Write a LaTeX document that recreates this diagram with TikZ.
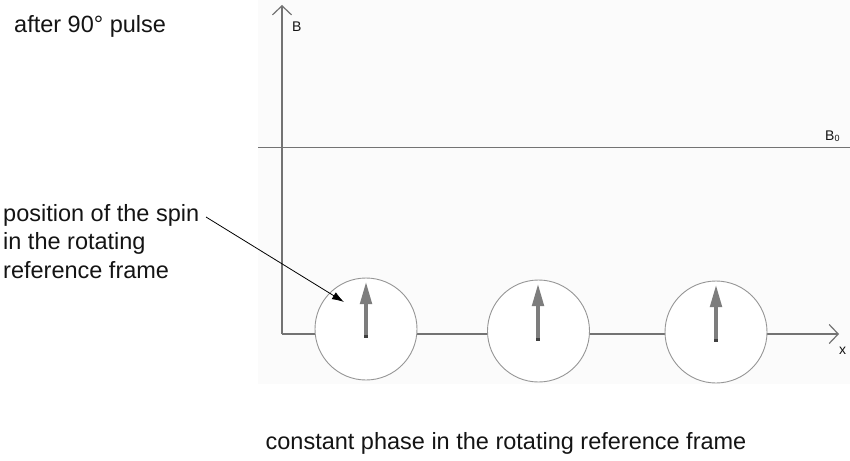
\documentclass[tikz,border=0pt]{standalone}
\usepackage{fontspec}
\setmainfont{Liberation Sans}
\usetikzlibrary{arrows.meta}
\definecolor{axisgray}{RGB}{115,115,115}
\definecolor{circgray}{RGB}{150,150,150}
\definecolor{spingray}{RGB}{125,125,125}
\definecolor{panelbg}{RGB}{251,251,251}
\definecolor{txt}{RGB}{20,20,20}
\tikzset{
  axisline/.style={draw=axisgray, line width=1.2pt},
  axistip/.style={-{Straight Barb[length=9pt,width=19pt,line width=1.2pt]}},
  spincirc/.style={circle, draw=circgray, line width=0.9pt, fill=white, minimum size=102pt, inner sep=0pt},
  spinarrow/.style={draw=spingray, line width=4.5pt, -{Triangle[length=23pt,width=11pt]}, shorten >=0pt},
  bigtext/.style={inner sep=0pt, text=txt, font=\fontsize{23.5}{28.5}\selectfont},
  smalltext/.style={inner sep=0pt, text=txt, font=\fontsize{14}{16}\selectfont},
  leader/.style={draw=black, line width=0.8pt, -{Latex[length=12pt,width=8pt]}}
}
\begin{document}
\begin{tikzpicture}[x=1pt,y=-1pt]
\useasboundingbox (0,0) rectangle (850,460);
\fill[panelbg] (258,0) rectangle (850,384);
% axes
\coordinate (O) at (282,334);
\coordinate (Btop) at (282,5);
\coordinate (Xend) at (839,334);
\draw[axisline, axistip] (O) -- (Btop);
\draw[axisline, axistip] (O) -- (Xend);
% B0 line
\coordinate (b0l) at (258,147);
\coordinate (b0r) at (850,147);
\draw[axisline, line width=1pt] (b0l) -- (b0r);
% circles
\node[spincirc] (c1) at (366,329) {};
\node[spincirc] (c2) at (538.5,331) {};
\node[spincirc] (c3) at (716,332) {};
% spins
\foreach \n/\x/\yb/\yt in {1/366/337/281, 2/538/340/283, 3/716/341/284}{
  \coordinate (s\n b) at (\x,\yb);
  \coordinate (s\n t) at (\x,\yt);
  \draw[spinarrow] (s\n b) -- (s\n t);
  \fill[black!75] (\x-2.3,\yb-2.5) rectangle (\x+2.3,\yb+0.5);
}
% labels
\node[smalltext, anchor=base west] (lB) at (292,32) {B};
\node[smalltext, anchor=base west] (lB0) at (825,140) {B\raisebox{-1pt}{\fontsize{9}{9}\selectfont 0}};
\node[smalltext, anchor=base west] (lx) at (839,354) {x};
\node[bigtext, anchor=base west] (title) at (14,33) {after 90° pulse};
\node[bigtext, anchor=base west, align=left] (pos) at (3,278) {position of the spin\\in the rotating\\reference frame};
\node[bigtext, anchor=base] (bottom) at (506,449) {constant phase in the rotating reference frame};
% leader
\coordinate (lead) at (206,217);
\coordinate (tip) at (344,302);
\draw[leader] (lead) -- (tip);
\end{tikzpicture}
\end{document}
